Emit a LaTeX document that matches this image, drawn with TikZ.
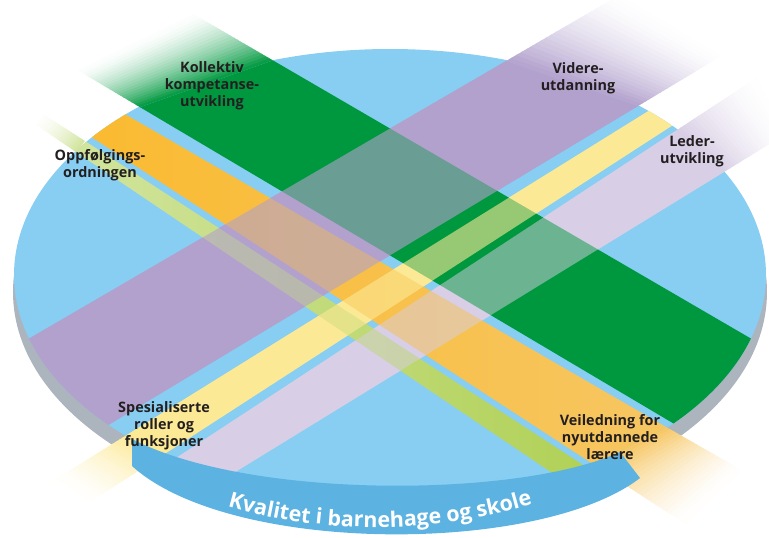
\documentclass[tikz,border=0pt]{standalone}
\usepackage{fontspec}
\setmainfont{Open Sans}
\usetikzlibrary{calc,decorations.text}

\definecolor{surfblue}{RGB}{135,206,242}
\definecolor{rimgray}{RGB}{172,181,189}
\definecolor{ribbonblue}{RGB}{92,178,225}
\definecolor{kgreen}{RGB}{0,152,63}
\definecolor{vlilac}{RGB}{178,161,205}
\definecolor{llilac}{RGB}{216,206,229}
\definecolor{syellow}{RGB}{252,233,150}
\definecolor{vorange}{RGB}{251,185,42}
\definecolor{vorangemid}{RGB}{247,166,38}
\definecolor{vorangelt}{RGB}{246,198,98}
\definecolor{olime}{RGB}{163,201,58}
\colorlet{olimelt}{olime!50!white}
\definecolor{labelink}{RGB}{35,31,32}

\tikzset{
  bandlabel/.style={align=center, text=labelink, inner sep=0pt,
    font=\bfseries\fontsize{8.2}{9.7}\selectfont},
}

% colour strips from the inner edge (#2,#3) out to white at (#4,#5)
\newcommand{\fadeband}[5]{%
  \foreach \i in {0,...,23}{%
    \pgfmathsetmacro{\fadeta}{\i/24}%
    \pgfmathsetmacro{\fadetb}{(\i+1.3)/24}%
    \pgfmathtruncatemacro{\fadepc}{100*(1-(\i+0.5)/24)^1.6}%
    \fill[#1!\fadepc!white] ($(#2)!\fadeta!(#4)$) -- ($(#3)!\fadeta!(#5)$)
      -- ($(#3)!\fadetb!(#5)$) -- ($(#2)!\fadetb!(#4)$) -- cycle;
  }%
}

\begin{document}
\begin{tikzpicture}[x=0.02cm, y=-0.02cm]
	\useasboundingbox (0,0) rectangle (769,538);

	% band corners
	\coordinate (kol1) at (273,60.4);  \coordinate (kol2) at (800,367.1);
	\coordinate (kol3) at (800,498.5); \coordinate (kol4) at (140,107.2);
	\coordinate (kol5) at (190,12.1);  \coordinate (kol6) at (75,68.6);
	\coordinate (vei1) at (667,427.5); \coordinate (vei2) at (0,41.9);
	\coordinate (vei3) at (0,77.4);    \coordinate (vei4) at (594,464.7);
	\coordinate (vei5) at (745,472);   \coordinate (vei6) at (690,527);
	\coordinate (opp1) at (85,141);    \coordinate (opp2) at (800,606);
	\coordinate (opp3) at (800,640);   \coordinate (opp4) at (76,152);
	\coordinate (opp5) at (40,112);    \coordinate (opp6) at (32,122);
	\coordinate (vid1) at (506,61);    \coordinate (vid2) at (0,355.5);
	\coordinate (vid3) at (0,490.2);   \coordinate (vid4) at (638,106);
	\coordinate (vid5) at (625,-8.3);  \coordinate (vid6) at (725,53.8);
	\coordinate (led1) at (677,130);   \coordinate (led2) at (0,573.3);
	\coordinate (led3) at (0,616.4);   \coordinate (led4) at (724,172);
	\coordinate (led5) at (760,75.5);  \coordinate (led6) at (790,131.3);
	\coordinate (spe1) at (126,435.5); \coordinate (spe2) at (800,16.9);
	\coordinate (spe3) at (800,42.8);  \coordinate (spe4) at (162,455.6);
	\coordinate (spe5) at (50,482.7);  \coordinate (spe6) at (85,505.4);

	% disc
	\fill[rimgray] (390,292) ellipse [x radius=377, y radius=226];
	\fill[surfblue] (390,275) ellipse [x radius=376, y radius=226];

	\begin{scope}
		\clip (390,275) ellipse [x radius=376, y radius=226];
		\fill[vlilac] (vid1) -- (vid2) -- (vid3) -- (vid4) -- cycle;
		\fill[llilac] (led1) -- (led2) -- (led3) -- (led4) -- cycle;
		\fill[syellow] (spe1) -- (spe2) -- (spe3) -- (spe4) -- cycle;
		\fill[kgreen] (kol1) -- (kol2) -- (kol3) -- (kol4) -- cycle;
		\shade[left color=vorange, middle color=vorangemid, right color=vorangelt]
			(vei1) -- (vei2) -- (vei3) -- (vei4) -- cycle;
		\shade[left color=olimelt, right color=olime]
			(opp1) -- (opp2) -- (opp3) -- (opp4) -- cycle;
		\fill[vlilac, fill opacity=.6] (vid1) -- (vid2) -- (vid3) -- (vid4) -- cycle;
		\fill[llilac, fill opacity=.5] (led1) -- (led2) -- (led3) -- (led4) -- cycle;
		\fill[syellow, fill opacity=.6] (spe1) -- (spe2) -- (spe3) -- (spe4) -- cycle;
	\end{scope}

	% band ends fading out
	\fadeband{kgreen}{kol1}{kol4}{kol5}{kol6}
	\fadeband{vorangelt}{vei1}{vei4}{vei5}{vei6}
	\fadeband{olimelt}{opp1}{opp4}{opp5}{opp6}
	\fadeband{vlilac}{vid1}{vid4}{vid5}{vid6}
	\fadeband{llilac}{led1}{led4}{led5}{led6}
	\fadeband{syellow}{spe1}{spe4}{spe5}{spe6}

	% front edge
	\fill[ribbonblue] (132,439) .. controls (250,500) and (520,498) .. (620,452)
		-- (640,478) .. controls (540,555) and (230,555) .. (132,466) -- cycle;
	\path[decorate, decoration={text along path, text align=center, text color=white,
		text={|\bfseries\fontsize{12.2}{15}\selectfont|Kvalitet i barnehage og skole}}]
		(215,503) .. controls (320,536) and (440,536) .. (545,500);

	\node[bandlabel] (kollektiv) at (212,86) {Kollektiv\\kompetanse-\\utvikling};
	\node[bandlabel] (oppfolging) at (100,165) {Oppfølgings-\\ordningen};
	\node[bandlabel] (videre) at (578,78) {Videre-\\utdanning};
	\node[bandlabel] (leder) at (692,151) {Leder-\\utvikling};
	\node[bandlabel] (spesialiserte) at (164,426) {Spesialiserte\\roller og\\funksjoner};
	\node[bandlabel] (veiledning) at (610,437) {Veiledning for\\nyutdannede\\lærere};
\end{tikzpicture}
\end{document}
